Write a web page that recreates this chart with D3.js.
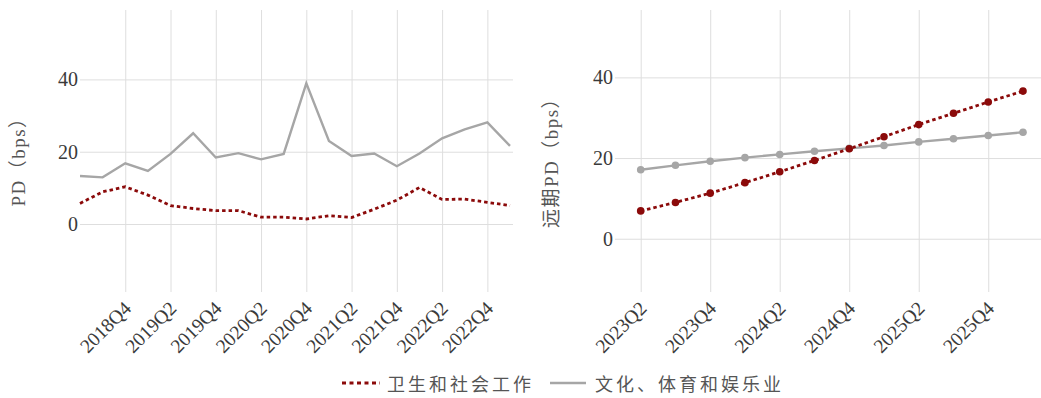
<!DOCTYPE html>
<html>
<head>
<meta charset="utf-8">
<script src="https://cdn.jsdelivr.net/npm/d3@7"></script>
<style>
  html, body { margin: 0; padding: 0; background: #fff; }
  svg { display: block; }
  text { font-family: 'Liberation Serif', 'Times New Roman', 'Noto Sans CJK SC', serif; }
</style>
</head>
<body>
<svg id="chart" width="1041" height="398"></svg>
<script>
// ---- Data ----
const histQuarters = ["2018Q2","2018Q3","2018Q4","2019Q1","2019Q2","2019Q3","2019Q4","2020Q1","2020Q2","2020Q3","2020Q4","2021Q1","2021Q2","2021Q3","2021Q4","2022Q1","2022Q2","2022Q3","2022Q4","2023Q1"];
const histHealth = [5.7, 8.9, 10.3, 8.0, 5.1, 4.3, 3.7, 3.7, 1.9, 1.9, 1.4, 2.3, 1.8, 4.1, 6.6, 10.1, 6.8, 6.9, 6.0, 5.1];
const histCulture = [13.3, 12.9, 16.8, 14.7, 19.4, 25.1, 18.4, 19.6, 17.9, 19.4, 38.9, 23.0, 18.8, 19.5, 16.0, 19.5, 23.7, 26.2, 28.1, 21.6];

const fwdQuarters = ["2023Q2","2023Q3","2023Q4","2024Q1","2024Q2","2024Q3","2024Q4","2025Q1","2025Q2","2025Q3","2025Q4","2026Q1"];
const fwdHealth = [6.9, 9.0, 11.3, 13.9, 16.6, 19.4, 22.3, 25.3, 28.3, 31.1, 33.9, 36.6];
const fwdCulture = [17.1, 18.2, 19.2, 20.1, 20.9, 21.7, 22.4, 23.1, 24.0, 24.8, 25.6, 26.4];

const histTicks = ["2018Q4","2019Q2","2019Q4","2020Q2","2020Q4","2021Q2","2021Q4","2022Q2","2022Q4"];
const fwdTicks = ["2023Q2","2023Q4","2024Q2","2024Q4","2025Q2","2025Q4"];
const yTicks = [0, 20, 40];

const seriesNames = ["卫生和社会工作", "文化、体育和娱乐业"];
const yTitles = ["PD（bps）", "远期PD（bps）"];

// ---- Style ----
const RED = "#8b0a0a";
const GRAY = "#a6a6a6";
const GRID = "#dedede";
const TICKCOL = "#3a3a3a";
const SERIF = "'Liberation Serif', 'Times New Roman', 'DejaVu Serif', serif";

const svg = d3.select("#chart");

function panel(cfg) {
  const g = svg.append("g");
  const x = d3.scalePoint().domain(cfg.quarters).range(cfg.xRange);
  const y = d3.scaleLinear().domain(cfg.yDomain).range([292, 10]);

  // y axis with horizontal gridlines
  const yAxis = d3.axisLeft(y).tickValues(yTicks).tickSize(-(cfg.gridRight - cfg.axisX)).tickPadding(2);
  const ya = g.append("g").attr("transform", `translate(${cfg.axisX},0)`).call(yAxis);
  ya.attr("font-family", null);
  ya.select(".domain").remove();
  ya.selectAll("line").attr("stroke", GRID).attr("stroke-width", 1);
  ya.selectAll("text").attr("fill", TICKCOL).style("font-size", "20px")
    .style("font-family", SERIF);

  // x axis with vertical gridlines
  const xAxis = d3.axisBottom(x).tickValues(cfg.ticks).tickSize(-282).tickPadding(0);
  const xa = g.append("g").attr("transform", "translate(0,292)").call(xAxis);
  xa.attr("font-family", null);
  xa.select(".domain").remove();
  xa.selectAll("line").attr("stroke", GRID).attr("stroke-width", 1);
  xa.selectAll("text")
    .attr("fill", TICKCOL).style("font-size", "19.5px")
    .style("font-family", SERIF)
    .attr("text-anchor", "end")
    .attr("dominant-baseline", "hanging")
    .attr("x", -3).attr("y", 8).attr("dy", null)
    .attr("transform", "rotate(-45, -3, 8)");

  // y title
  g.append("text")
    .attr("transform", `translate(${cfg.titleX},${cfg.titleY}) rotate(-90)`)
    .attr("text-anchor", "middle")
    .attr("dominant-baseline", "central")
    .attr("fill", "#555")
    .style("font-size", "19px")
    .style("letter-spacing", "1.5px")
    .text(cfg.title);

  const line = d3.line().x((d, i) => x(cfg.quarters[i])).y(d => y(d));

  g.append("path").datum(cfg.culture)
    .attr("d", line).attr("fill", "none")
    .attr("stroke", GRAY).attr("stroke-width", 2.4);
  g.append("path").datum(cfg.health)
    .attr("d", line).attr("fill", "none")
    .attr("stroke", RED).attr("stroke-width", 2.8)
    .attr("stroke-dasharray", "3.5,3");

  if (cfg.points) {
    g.selectAll("circle.c").data(cfg.culture).enter().append("circle")
      .attr("cx", (d, i) => x(cfg.quarters[i])).attr("cy", d => y(d))
      .attr("r", 3.8).attr("fill", GRAY);
    g.selectAll("circle.h").data(cfg.health).enter().append("circle")
      .attr("cx", (d, i) => x(cfg.quarters[i])).attr("cy", d => y(d))
      .attr("r", 3.8).attr("fill", RED);
  }
}

panel({
  quarters: histQuarters, health: histHealth, culture: histCulture, ticks: histTicks,
  xRange: [80, 510], yDomain: [-18.8, 59.2], axisX: 80, gridRight: 513,
  title: yTitles[0], titleX: 18, titleY: 157, points: false
});

panel({
  quarters: fwdQuarters, health: fwdHealth, culture: fwdCulture, ticks: fwdTicks,
  xRange: [640.7, 1023], yDomain: [-13.2, 56.7], axisX: 615, gridRight: 1045,
  title: yTitles[1], titleX: 551, titleY: 158, points: true
});

// ---- Legend ----
const lg = svg.append("g").attr("transform", "translate(0,383)");
lg.append("line").attr("x1", 342).attr("x2", 380).attr("y1", 0).attr("y2", 0)
  .attr("stroke", RED).attr("stroke-width", 2.8).attr("stroke-dasharray", "4,3.5");
lg.append("text").attr("x", 387).attr("y", 0).attr("dominant-baseline", "central")
  .attr("fill", "#555").style("font-size", "18px").style("letter-spacing", "3px")
  .style("font-family", "'Noto Sans CJK SC', sans-serif")
  .text(seriesNames[0]);
lg.append("line").attr("x1", 550).attr("x2", 586).attr("y1", 0).attr("y2", 0)
  .attr("stroke", GRAY).attr("stroke-width", 2.4);
lg.append("text").attr("x", 595).attr("y", 0).attr("dominant-baseline", "central")
  .attr("fill", "#555").style("font-size", "18px").style("letter-spacing", "3px")
  .style("font-family", "'Noto Sans CJK SC', sans-serif")
  .text(seriesNames[1]);
</script>
</body>
</html>
